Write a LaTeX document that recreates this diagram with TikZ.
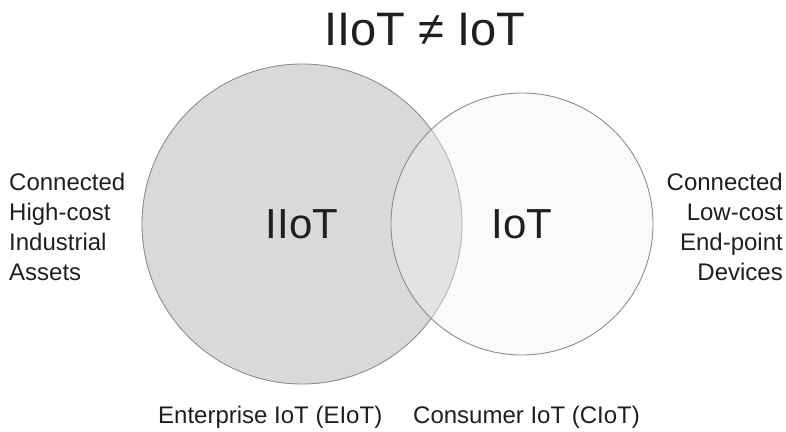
\documentclass[tikz,border=0pt]{standalone}
\usepackage{fontspec}
\setmainfont{Liberation Sans}
\usetikzlibrary{positioning}

\begin{document}
\begin{tikzpicture}[x=1pt,y=-1pt,
    every node/.style={text=black!88},
    set node/.style={circle,draw=black!45,line width=0.9pt,inner sep=0pt,font=\fontsize{42}{44}\selectfont},
    side node/.style={font=\fontsize{24}{30}\selectfont,inner sep=0pt},
    foot node/.style={font=\fontsize{24}{30}\selectfont,inner sep=0pt,anchor=base west}]
    \useasboundingbox (0,0) rectangle (786,431);

    \node (1) [font=\fontsize{47}{50}\selectfont,anchor=base,inner sep=0pt] at (425,45){IIoT ≠ IoT};

    \node (2) [set node,fill=black!15,minimum size=320pt] at (302,224){IIoT};
    \node (3) [set node,fill=black!5,fill opacity=0.4,text opacity=1,minimum size=262pt] at (522,224){IoT};

    \node (4) [side node,align=left,anchor=west] at (9,227){Connected\\High-cost\\Industrial\\Assets};
    \node (5) [side node,align=right,anchor=east] at (783,227){Connected\\Low-cost\\End-point\\Devices};

    \node (6) [foot node] at (158,423){Enterprise IoT (EIoT)};
    \node (7) [foot node] at (413,423){Consumer IoT (CIoT)};
\end{tikzpicture}
\end{document}
